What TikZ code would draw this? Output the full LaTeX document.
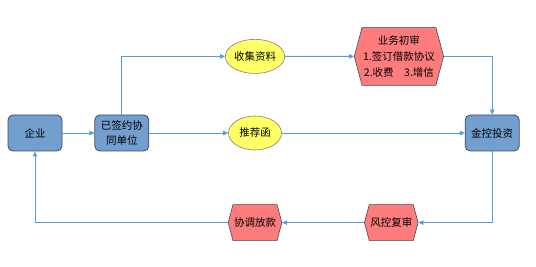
\documentclass[tikz,border=0pt]{standalone}
\usepackage{fontspec}
\setmainfont{Noto Sans CJK SC}
\usepackage{xcolor}
\usepackage{tikz}
\usetikzlibrary{shapes, arrows.meta, positioning, calc}

\definecolor{boxblue}{HTML}{729FCF}
\definecolor{ellyellow}{HTML}{FFFF66}
\definecolor{hexred}{HTML}{FF7C7C}
\definecolor{linkblue}{HTML}{5B9BD5}
\definecolor{edgegray}{HTML}{404A55}

\begin{document}
\begin{tikzpicture}[
    bluebox/.style={rectangle, draw=edgegray, fill=boxblue, rounded corners=5pt, line width=0.8pt, minimum width=54pt, minimum height=36pt, align=center, inner sep=1pt, font=\fontsize{10.5}{15}\selectfont},
    yellowell/.style={ellipse, draw=gray, fill=ellyellow, line width=0.6pt, minimum width=53pt, minimum height=34pt, inner sep=0pt, font=\fontsize{10.5}{15}\selectfont},
    redhex/.style={signal, signal to=east and west, signal pointer angle=150, draw=edgegray, fill=hexred, line width=0.6pt, minimum height=36pt, align=center, inner sep=1pt, font=\fontsize{10.5}{16}\selectfont},
    arrow/.style={-{Triangle[length=5pt, width=4.5pt]}, linkblue, line width=0.8pt}
]
    \useasboundingbox (0,0) rectangle (536pt,-267pt);

    % Left side
    \node[bluebox] (qiye) at (35pt,-133pt) {企业};
    \node[bluebox, right=32pt of qiye] (danwei) {已签约协\\同单位};

    % Middle row
    \node[yellowell, right=79pt of danwei] (tuijian) {推荐函};
    \node[yellowell, above=42pt of tuijian] (shouji) {收集资料};
    \node[redhex, minimum width=79pt, minimum height=58pt, right=69pt of shouji] (chushen) {业务初审\\1.签订借款协议\\2.收费\hspace{1em}3.增信};

    % Right side
    \node[bluebox, right=183pt of tuijian] (jinkong) {金控投资};

    % Bottom row
    \node[redhex, minimum width=53pt, below=54pt of tuijian] (fangkuan) {协调放款};
    \node[redhex, minimum width=52pt, right=82pt of fangkuan] (fukong) {风控复审};

    % Arrows
    \draw[arrow] (qiye) -- (danwei);
    \draw[arrow] (danwei.north) |- (shouji.west);
    \draw[arrow] (danwei.east) -- (tuijian.west);
    \draw[arrow] (shouji) -- (chushen);
    \draw[arrow] (chushen.east) -| (jinkong.north);
    \draw[arrow] (tuijian.east) -- (jinkong.west);
    \draw[arrow] (jinkong.south) |- (fukong.east);
    \draw[arrow] (fukong) -- (fangkuan);
    \draw[arrow] (fangkuan.west) -| (qiye.south);

\end{tikzpicture}
\end{document}
